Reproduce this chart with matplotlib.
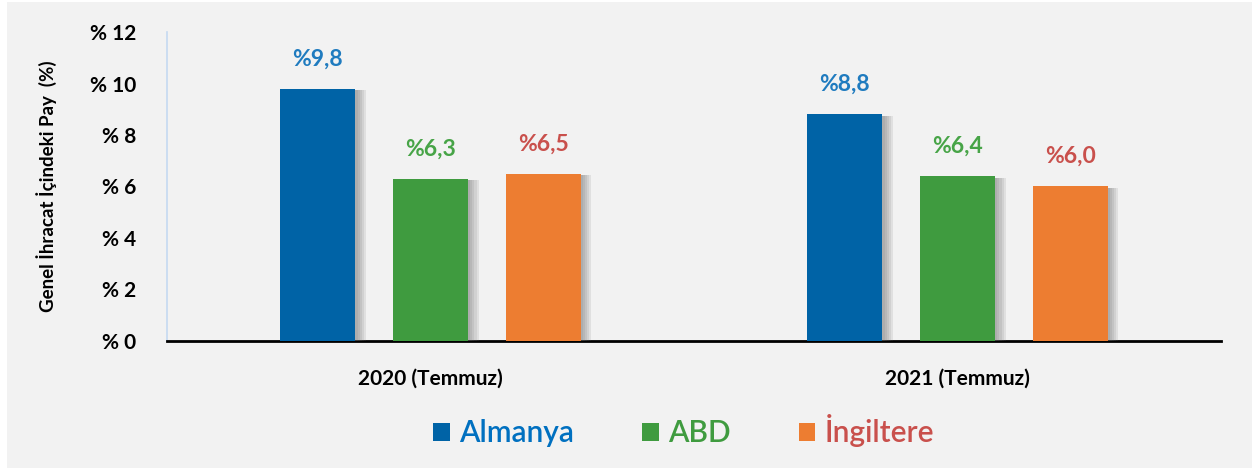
import numpy as np
import matplotlib.pyplot as plt
import matplotlib.patheffects as pe
from matplotlib.patches import Rectangle

# DATOS
donemler = ["2020 (Temmuz)", "2021 (Temmuz)"]
ulkeler = ["Almanya", "ABD", "İngiltere"]
almanya = [9.8, 8.8]
abd = [6.3, 6.4]
ingiltere = [6.5, 6.0]
yticks = [0, 2, 4, 6, 8, 10, 12]

bar_renk = ["#0063a6", "#3f9b3f", "#ed7d31"]
etiket_renk = ["#1f7bbf", "#47a447", "#c9504c"]

plt.rcParams['font.family'] = ['Lato', 'DejaVu Sans']

fig = plt.figure(figsize=(12.55, 4.68), dpi=100, facecolor="white")
fig.patches.append(Rectangle((7 / 1255, 0), 1 - 10 / 1255, 1 - 2 / 468,
                             transform=fig.transFigure, facecolor="#f2f2f2",
                             edgecolor="none", zorder=-10))
ax = fig.add_axes([0.1331, 0.2714, 0.8399, 0.6602])
ax.set_facecolor("none")

x = np.arange(len(donemler))
w = 0.143
sep = 0.214
seriler = [almanya, abd, ingiltere]
# yumusak golge
golge = [pe.SimplePatchShadow(offset=(d, -1), shadow_rgbFace="#666666", alpha=0.12)
         for d in (1.5, 3, 4.5, 6, 7.5)] + [pe.Normal()]
for i, (vals, ad) in enumerate(zip(seriler, ulkeler)):
    pos = x + (i - 1) * sep
    ax.bar(pos, vals, width=w, color=bar_renk[i], label=ad,
           path_effects=golge, zorder=3)
    for p, v in zip(pos, vals):
        ax.text(p, v + 0.75, "%" + f"{v:.1f}".replace(".", ","), ha="center",
                va="bottom", color=etiket_renk[i], fontsize=16.5, fontweight="bold")

ax.set_xlim(-0.5, 1.5)
ax.set_ylim(0, 12)
ax.set_yticks(yticks)
ax.set_yticklabels([f"% {t}" for t in yticks], fontsize=15, fontweight="bold")
ax.set_xticks(x)
ax.set_xticklabels(donemler, fontsize=15, fontweight="bold")
ax.tick_params(axis="both", length=0)
ax.tick_params(axis="y", pad=22)
ax.tick_params(axis="x", pad=20)

for s in ["top", "right"]:
    ax.spines[s].set_visible(False)
ax.spines["left"].set_color("#c5d9f1")
ax.spines["left"].set_linewidth(1.2)
ax.spines["bottom"].set_color("black")
ax.spines["bottom"].set_linewidth(2)

ax.set_ylabel("Genel İhracat İçindeki Pay  (%)", fontsize=13.5, fontweight="bold",
              labelpad=24)

leg = ax.legend(loc="center", bbox_to_anchor=(0.49, -0.29), ncol=3, frameon=False,
                prop={"size": 21.5, "weight": "semibold"}, handlelength=0.55,
                handleheight=0.55, columnspacing=2.3, handletextpad=0.3)
for t, c in zip(leg.get_texts(), ["#0070c0", "#3f9b3f", "#c9504c"]):
    t.set_color(c)
for h in leg.legend_handles:
    h.set_path_effects([])

fig.savefig("out.png", dpi=100, facecolor=fig.get_facecolor())
